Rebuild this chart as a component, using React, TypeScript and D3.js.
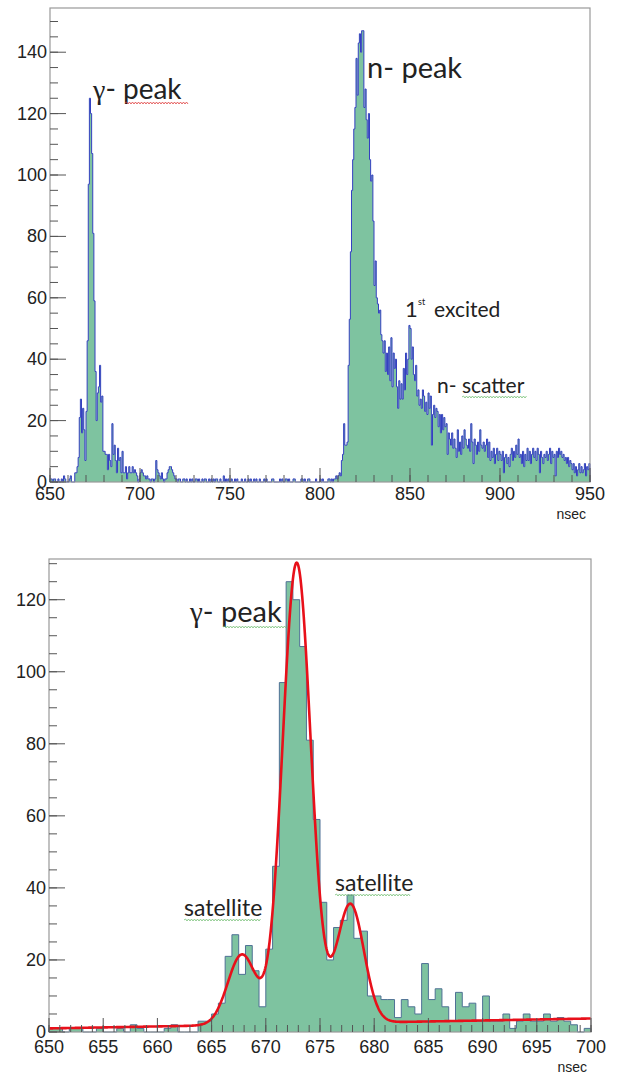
import React from "react";
import * as d3 from "d3";

// ---- data: counts per 0.625 ns bin, starting at 650 ns ----
const BIN_START = 650;
const BIN_WIDTH = 0.625;

// 650 - 700 ns (80 bins)
const gammaRegion = [
  1, 1, 0, 1, 1, 0, 0, 1,
  0, 0, 1, 0, 2, 1, 0, 0,
  0, 1, 2, 0, 0, 0, 3, 3,
  5, 8, 21, 27, 16, 24, 17, 7,
  23, 46, 97, 125, 120, 107, 81, 59,
  36, 20, 29, 31, 38, 26, 28, 10,
  10, 9, 9, 4, 9, 7, 5, 19,
  9, 12, 7, 3, 11, 7, 8, 3,
  10, 3, 3, 5, 1, 3, 5, 3,
  3, 5, 3, 4, 3, 2, 0, 1,
];

// 700 - 810 ns (176 bins)
const flatRegion = [
  3, 4, 3, 2, 2, 1, 2, 1, 1, 0, 1, 1, 0, 1, 7, 4,
  3, 2, 1, 3, 1, 0, 1, 1, 3, 4, 5, 5, 4, 3, 2, 1,
  1, 0, 1, 1, 0, 0, 1, 1, 0, 1, 0, 0, 1, 0, 1, 0,
  0, 1, 1, 0, 1, 0, 0, 1, 0, 1, 1, 0, 0, 1, 0, 1,
  0, 1, 0, 1, 1, 0, 0, 1, 0, 0, 2, 0, 1, 0, 1, 0,
  0, 1, 0, 0, 1, 0, 1, 0, 0, 0, 1, 0, 0, 1, 0, 0,
  1, 0, 1, 0, 0, 1, 0, 1, 0, 0, 1, 0, 0, 0, 1, 0,
  1, 0, 0, 0, 0, 1, 1, 0, 0, 0, 0, 0, 1, 0, 1, 0,
  0, 1, 1, 0, 1, 0, 0, 0, 1, 1, 0, 0, 0, 0, 0, 1,
  1, 0, 1, 0, 0, 1, 1, 0, 0, 0, 0, 0, 1, 0, 0, 0,
  1, 0, 1, 0, 0, 0, 0, 1, 1, 0, 1, 0, 1, 1, 2, 1,
];

// 810 - 950 ns (224 bins)
const neutronRegion = [
  2, 3, 2, 7, 9, 19, 12, 12,
  13, 38, 53, 75, 95, 105, 115, 122,
  138, 126, 143, 146, 140, 147, 147, 122,
  128, 118, 112, 120, 105, 98, 100, 85,
  64, 72, 60, 58, 55, 56, 48, 46,
  42, 46, 36, 42, 35, 44, 33, 47,
  31, 42, 37, 40, 31, 24, 33, 27,
  32, 27, 37, 30, 42, 35, 40, 51,
  50, 40, 44, 35, 33, 38, 28, 30,
  25, 27, 24, 30, 28, 23, 26, 22,
  29, 24, 28, 12, 22, 25, 21, 24,
  23, 18, 22, 16, 22, 17, 21, 18,
  19, 9, 16, 14, 12, 16, 11, 14,
  11, 8, 17, 10, 13, 9, 15, 11,
  17, 14, 12, 11, 14, 10, 19, 13,
  6, 14, 12, 9, 13, 10, 17, 12,
  11, 13, 10, 12, 14, 8, 13, 7,
  10, 8, 11, 6, 9, 11, 7, 10,
  9, 7, 10, 3, 8, 9, 6, 8,
  5, 9, 11, 7, 10, 8, 12, 9,
  14, 8, 9, 6, 10, 5, 9, 7,
  11, 7, 10, 6, 9, 11, 8, 10,
  7, 11, 9, 3, 10, 8, 6, 9,
  8, 10, 7, 9, 11, 6, 10, 8,
  9, 2, 10, 8, 11, 9, 10, 8,
  9, 7, 8, 6, 8, 5, 7, 6,
  4, 6, 3, 5, 2, 4, 6, 3,
  5, 3, 4, 6, 2, 5, 4, 6,
];

const allCounts = [...gammaRegion, ...flatRegion, ...neutronRegion];

// fit: linear background + three gaussians
const fitBackground = [1.0, 0.055]; // a + b*(t-650)
const fitPeaks = [
  { amp: 19.5, mean: 667.8, sigma: 1.3 },
  { amp: 128, mean: 672.85, sigma: 1.3 },
  { amp: 33, mean: 677.8, sigma: 1.25 },
];

const topXTicks = [650, 700, 750, 800, 850, 900, 950];
const topYTicks = [0, 20, 40, 60, 80, 100, 120, 140];
const botXTicks = [650, 655, 660, 665, 670, 675, 680, 685, 690, 695, 700];
const botYTicks = [0, 20, 40, 60, 80, 100, 120];

const FILL = "#7ec3a0";
const FRAME = "#999";
const TICK = "#555";
const LABEL = "#222";
const TICKFONT = "'Liberation Sans', Arial, sans-serif";
const ANNFONT = "Lato, 'Open Sans', sans-serif";

function fitValue(t: number) {
  let v = fitBackground[0] + fitBackground[1] * (t - 650);
  for (const p of fitPeaks) {
    v += p.amp * Math.exp(-0.5 * ((t - p.mean) / p.sigma) ** 2);
  }
  return v;
}

function histPaths(
  counts: number[],
  x: d3.ScaleLinear<number, number>,
  y: d3.ScaleLinear<number, number>
) {
  const p = d3.path();
  const x0 = x(BIN_START);
  p.moveTo(x0, y(0));
  counts.forEach((c, i) => {
    const l = x(BIN_START + i * BIN_WIDTH);
    const r = x(BIN_START + (i + 1) * BIN_WIDTH);
    p.lineTo(l, y(c));
    p.lineTo(r, y(c));
  });
  const xe = x(BIN_START + counts.length * BIN_WIDTH);
  p.lineTo(xe, y(0));
  const outline = p.toString();
  p.closePath();
  return { outline, fill: p.toString() };
}

function squiggle(x1: number, x2: number, y: number) {
  const p = d3.path();
  p.moveTo(x1, y);
  let up = true;
  for (let x = x1 + 1.5; x <= x2; x += 1.5) {
    p.lineTo(x, y + (up ? -1 : 1));
    up = !up;
  }
  return p.toString();
}

type PanelProps = {
  counts: number[];
  left: number;
  right: number;
  top: number;
  bottom: number;
  xDomain: [number, number];
  yMax: number;
  xTicks: number[];
  xMinorStep: number;
  yTicks: number[];
  outlineColor: string;
  labelOffset: number;
  withFit?: boolean;
};

function Panel(props: PanelProps) {
  const { counts, left, right, top, bottom, xDomain, yMax, xTicks, xMinorStep, yTicks, outlineColor, labelOffset, withFit } = props;
  const x = d3.scaleLinear().domain(xDomain).range([left, right]);
  const y = d3.scaleLinear().domain([0, yMax]).range([bottom, top]);
  const { outline, fill } = histPaths(counts, x, y);
  const xMinor = d3.range(xDomain[0], xDomain[1] + 1e-9, xMinorStep);
  const yMinor = d3.range(0, yMax, 5);
  const fitLine = d3
    .line<number>()
    .x((t) => x(t))
    .y((t) => y(fitValue(t)))
    .curve(d3.curveLinear);
  const fitPts = d3.range(xDomain[0], xDomain[1] + 0.001, 0.05);
  return (
    <g>
      <path d={fill} fill={FILL} stroke="none" />
      <path d={outline} fill="none" stroke={outlineColor} strokeWidth={1} />
      {withFit && (
        <path d={fitLine(fitPts) || ""} fill="none" stroke="#e8101a" strokeWidth={2.6} />
      )}
      {/* frame */}
      <rect x={left} y={top} width={right - left} height={bottom - top} fill="none" stroke={FRAME} strokeWidth={1.2} />
      {/* x ticks */}
      {xMinor.map((t, i) => (
        <line key={"xm" + i} x1={x(t)} x2={x(t)} y1={bottom} y2={bottom - 7} stroke={TICK} strokeWidth={1} />
      ))}
      {xTicks.map((t) => (
        <line key={"xM" + t} x1={x(t)} x2={x(t)} y1={bottom} y2={bottom - 14} stroke={TICK} strokeWidth={1} />
      ))}
      {yMinor.map((v, i) => (
        <line key={"ym" + i} x1={left} x2={left + 8} y1={y(v)} y2={y(v)} stroke={TICK} strokeWidth={1} />
      ))}
      {yTicks.map((v) => (
        <line key={"yM" + v} x1={left} x2={left + 16} y1={y(v)} y2={y(v)} stroke={TICK} strokeWidth={1} />
      ))}
      {xTicks.map((t) => (
        <text key={"xl" + t} x={x(t)} y={bottom + labelOffset} textAnchor="middle" fontFamily={TICKFONT} fontSize={18} fill={LABEL}>
          {t}
        </text>
      ))}
      {yTicks.map((v) => (
        <text key={"yl" + v} x={left - 3} y={y(v) + 6} textAnchor="end" fontFamily={TICKFONT} fontSize={18} fill={LABEL}>
          {v}
        </text>
      ))}
      <text x={right - 4} y={bottom + labelOffset + 19} textAnchor="end" fontFamily={TICKFONT} fontSize={14} fill={LABEL}>
        nsec
      </text>
    </g>
  );
}

export default function App() {
  const GREEN_SQ = "#79c279";
  return (
    <svg width={617} height={1074} style={{ position: "absolute", left: 0, top: 0, background: "#fff" }}>
      <rect x={0} y={0} width={617} height={1074} fill="#fff" />
      <Panel
        counts={allCounts}
        left={50}
        right={590}
        top={8}
        bottom={482}
        xDomain={[650, 950]}
        yMax={154.4}
        xTicks={topXTicks}
        xMinorStep={10}
        yTicks={topYTicks}
        outlineColor="#3440c0"
        labelOffset={18}
      />
      <Panel
        counts={gammaRegion}
        left={49}
        right={591}
        top={559}
        bottom={1032}
        xDomain={[650, 700]}
        yMax={131.3}
        xTicks={botXTicks}
        xMinorStep={1}
        yTicks={botYTicks}
        outlineColor="#4f7195"
        labelOffset={21}
        withFit
      />
      {/* annotations top */}
      <text x={93} y={99} fontFamily={ANNFONT} fontSize={28} fill="#222">
        <tspan fontFamily="'Liberation Serif', serif">γ</tspan>- peak
      </text>
      <path d={squiggle(125, 188, 103)} stroke="#e04040" strokeWidth={0.8} fill="none" />
      <text x={367} y={78} fontFamily={ANNFONT} fontSize={29} fill="#222">
        n- peak
      </text>
      <text x={405} y={317} fontFamily={ANNFONT} fontSize={22} fill="#222">
        1
      </text>
      <text x={418} y={305} fontFamily={ANNFONT} fontSize={9} fill="#222">
        st
      </text>
      <text x={434} y={317} fontFamily={ANNFONT} fontSize={21} fill="#222">
        excited
      </text>
      <text x={437} y={393} fontFamily={ANNFONT} fontSize={21} fill="#222">
        n- scatter
      </text>
      <path d={squiggle(462, 527, 397)} stroke={GREEN_SQ} strokeWidth={0.8} fill="none" />
      {/* annotations bottom */}
      <text x={190} y={622} fontFamily={ANNFONT} fontSize={29} fill="#222">
        <tspan fontFamily="'Liberation Serif', serif">γ</tspan>- peak
      </text>
      <path d={squiggle(223, 286, 627)} stroke={GREEN_SQ} strokeWidth={0.8} fill="none" />
      <text x={184} y={916} fontFamily={ANNFONT} fontSize={23} fill="#222">
        satellite
      </text>
      <path d={squiggle(184, 261, 920)} stroke={GREEN_SQ} strokeWidth={0.8} fill="none" />
      <text x={335} y={891} fontFamily={ANNFONT} fontSize={23} fill="#222">
        satellite
      </text>
      <path d={squiggle(335, 411, 895)} stroke={GREEN_SQ} strokeWidth={0.8} fill="none" />
    </svg>
  );
}
